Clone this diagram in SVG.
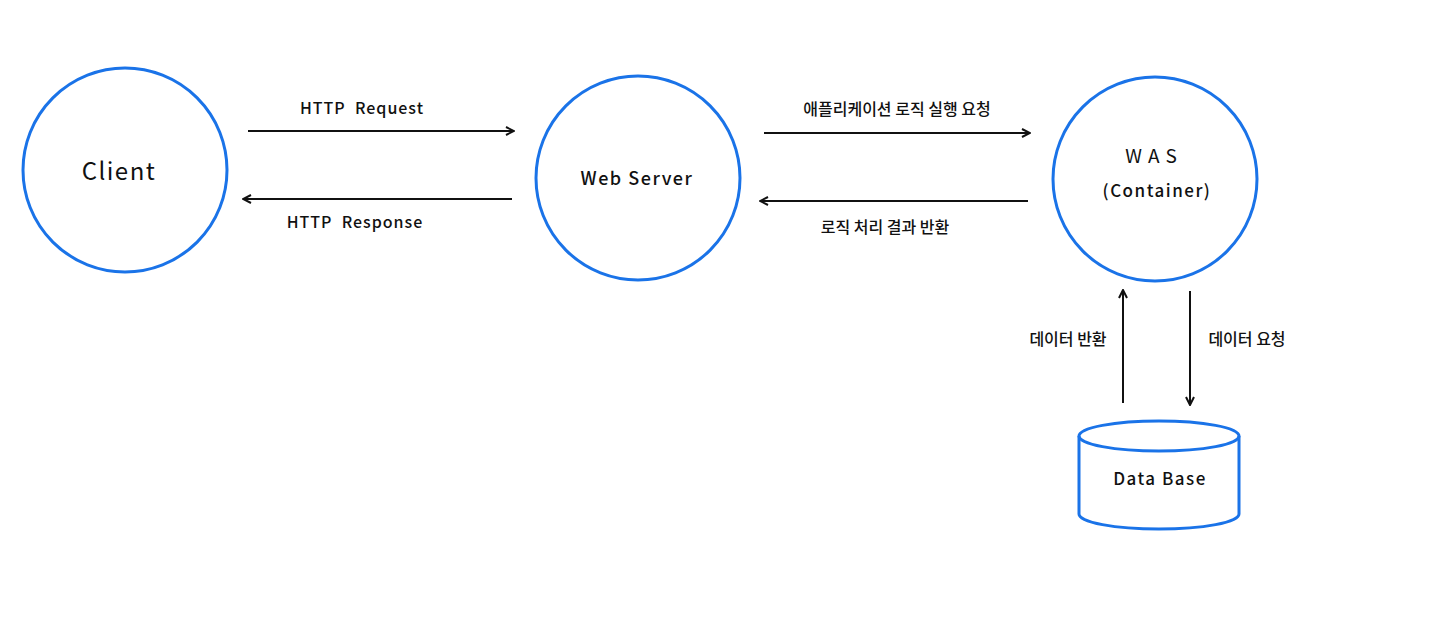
<svg xmlns="http://www.w3.org/2000/svg" width="1440" height="623" viewBox="0 0 1440 623">
<style>
.node{fill:none;stroke:#1a73e8;stroke-width:3}
.lbl{font-family:"Noto Sans CJK KR","Liberation Sans",sans-serif;font-size:16px;font-weight:500;fill:#111}
.conn{stroke:#111;stroke-width:2;fill:none;marker-end:url(#arr)}
</style>
<defs>
<marker id="arr" viewBox="0 0 10 10" refX="9" refY="5" markerWidth="10" markerHeight="10" markerUnits="userSpaceOnUse" orient="auto">
<polyline points="1,1 9,5 1,9" fill="none" stroke="#111" stroke-width="2"/>
</marker>
</defs>
<rect width="1440" height="623" fill="#fff"/>
<g id="client">
<circle class="node" cx="125" cy="170" r="102"/>
<text class="lbl" x="119" y="180" text-anchor="middle" style="font-size:24px;font-weight:400;letter-spacing:1.5px">Client</text>
</g>
<g id="webserver">
<circle class="node" cx="638" cy="178" r="102"/>
<text class="lbl" x="637" y="185" text-anchor="middle" style="font-size:18px;letter-spacing:1.5px">Web Server</text>
</g>
<g id="was">
<circle class="node" cx="1155" cy="179" r="102"/>
<text class="lbl" x="1154" y="163" text-anchor="middle" style="font-size:19px;font-weight:400;letter-spacing:6px">WAS</text>
<text class="lbl" x="1157" y="197" text-anchor="middle" style="font-size:17px;letter-spacing:1.5px">(Container)</text>
</g>
<g id="database">
<path class="node" d="M1079,436 L1079,514 A80,15 0 0 0 1239,514 L1239,436"/>
<ellipse class="node" cx="1159" cy="436" rx="80" ry="15" fill="#fff"/>
<text class="lbl" x="1160" y="485" text-anchor="middle" style="font-size:17px;letter-spacing:1.5px">Data Base</text>
</g>
<g id="connectors">
<line class="conn" x1="248" y1="131" x2="514" y2="131"/>
<line class="conn" x1="512" y1="199" x2="243" y2="199"/>
<line class="conn" x1="764" y1="133" x2="1030" y2="133"/>
<line class="conn" x1="1028" y1="201" x2="760" y2="201"/>
<line class="conn" x1="1123" y1="403" x2="1123" y2="290"/>
<line class="conn" x1="1190" y1="291" x2="1190" y2="405"/>
<text class="lbl" x="362" y="114" text-anchor="middle" style="letter-spacing:1px">HTTP&#160;&#160;Request</text>
<text class="lbl" x="355" y="228" text-anchor="middle" style="letter-spacing:1px">HTTP&#160;&#160;Response</text>
<text class="lbl" x="897" y="115" text-anchor="middle">애플리케이션 로직 실행 요청</text>
<text class="lbl" x="885" y="233" text-anchor="middle">로직 처리 결과 반환</text>
<text class="lbl" x="1068" y="345" text-anchor="middle">데이터 반환</text>
<text class="lbl" x="1247" y="345" text-anchor="middle">데이터 요청</text>
</g>
</svg>
